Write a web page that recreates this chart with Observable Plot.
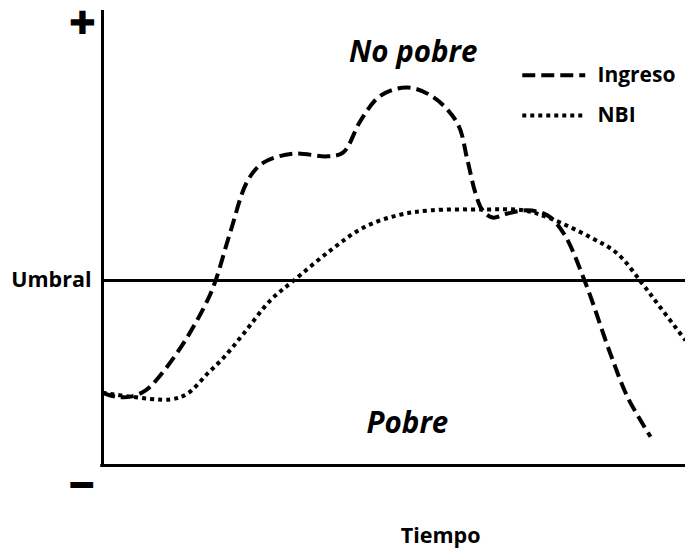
<!DOCTYPE html>
<html>
<head>
<meta charset="utf-8">
<script src="https://cdn.jsdelivr.net/npm/d3@7"></script>
<script src="https://cdn.jsdelivr.net/npm/@observablehq/plot@0.6"></script>
<style>
  html, body { margin: 0; padding: 0; background: #fff; }
  #chart svg { display: block; }
</style>
</head>
<body>
<div id="chart"></div>
<script>
// Time (0-100) and well-being level (0-100)
const ingresoT = [0, 2.2, 4.8, 7.4, 9.9, 14.2, 18.0, 19.4, 22.0, 24.9, 27.6, 32.8, 38.6, 41.3, 44.3, 47.7, 52.3, 56.8, 60.9, 62.6, 64.0, 65.2, 66.9, 69.5, 72.9, 76.3, 79.1, 82.8, 87.1, 90.1, 94.0];
const ingresoV = [16.2, 15.3, 15.3, 16.7, 20, 27.8, 36.7, 41.1, 52.2, 63.3, 67.3, 69.3, 68.7, 69.6, 76.7, 82.2, 84, 81.8, 76, 67.8, 60.4, 56.7, 55.1, 56, 56.7, 55.6, 51.6, 40.7, 24.9, 15.1, 6.4];
const nbiT = [0, 4.8, 11.7, 14.6, 18.0, 20.8, 24.2, 28.8, 32.8, 39.1, 44.8, 50.6, 56.3, 65.4, 72.2, 76.8, 83.7, 88.3, 92.6, 95.7, 100];
const nbiV = [16.2, 15.3, 14.7, 16, 20.4, 24, 29.3, 36.7, 41.1, 47.8, 52.9, 55.6, 56.7, 56.9, 56.7, 54.9, 50.7, 47.1, 40.4, 35.1, 27.8];
const umbral = 41.1;
const seriesNames = ["Ingreso", "NBI"];
const yLabels = ["✚", "Umbral", "−"];

const ingreso = ingresoT.map((t, i) => ({t, v: ingresoV[i]}));
const nbi = nbiT.map((t, i) => ({t, v: nbiV[i]}));

const FONT = "'Open Sans', sans-serif";
const dashed = {stroke: "black", strokeWidth: 4, strokeDasharray: "13,6", strokeLinecap: "butt", curve: "catmull-rom"};
const dotted = {stroke: "black", strokeWidth: 4, strokeDasharray: "4,4", strokeLinecap: "butt", curve: "catmull-rom"};

const legend = [
  {name: seriesNames[0], v: 86.7, style: dashed},
  {name: seriesNames[1], v: 77.8, style: dotted}
];

const chart = Plot.plot({
  width: 685,
  height: 552,
  marginLeft: 102,
  marginRight: 0,
  marginTop: 15,
  marginBottom: 87,
  style: {fontFamily: FONT, background: "white"},
  x: {domain: [0, 100], axis: null},
  y: {domain: [0, 100], axis: null},
  marks: [
    // axes
    Plot.ruleX([0], {y1: -0.3, y2: 101.1, stroke: "black", strokeWidth: 3}),
    Plot.ruleY([0], {x1: -0.3, x2: 100, stroke: "black", strokeWidth: 3}),
    Plot.ruleY([umbral], {x1: 0, x2: 100, stroke: "black", strokeWidth: 3}),
    // series
    Plot.line(ingreso, {x: "t", y: "v", ...dashed}),
    Plot.line(nbi, {x: "t", y: "v", ...dotted}),
    // y labels
    Plot.text([yLabels[0]], {x: 0, y: 98.2, dx: -20, text: d => d, fontSize: 32, fill: "black", fontFamily: "DejaVu Sans"}),
    Plot.text([yLabels[1]], {x: 0, y: umbral, dx: -11, textAnchor: "end", text: d => d, fontSize: 21.5, fontWeight: 700, fill: "black"}),
    Plot.text([yLabels[2]], {x: 0, y: -4.9, dx: -21, dy: -1, text: d => d, fontSize: 46, fontWeight: 800, fill: "black"}),
    // region labels
    Plot.text(["No pobre"], {x: 53.3, y: 91.8, text: d => d, fontSize: 29.5, fontWeight: 700, fontStyle: "italic", fill: "black"}),
    Plot.text(["Pobre"], {x: 52.3, y: 9.3, text: d => d, fontSize: 29.5, fontWeight: 700, fontStyle: "italic", fill: "black"}),
    Plot.text(["Tiempo"], {x: 58, y: -15.8, text: d => d, fontSize: 21.5, fontWeight: 700, fill: "black"}),
    // legend
    ...legend.map(l => Plot.line([{t: 72.0, v: l.v}, {t: 82.8, v: l.v}], {x: "t", y: "v", ...l.style, curve: "linear"})),
    Plot.text(legend, {x: 84.9, y: "v", text: "name", textAnchor: "start", fontSize: 21, fontWeight: 700, fill: "black"})
  ]
});
document.getElementById("chart").appendChild(chart);
</script>
</body>
</html>
